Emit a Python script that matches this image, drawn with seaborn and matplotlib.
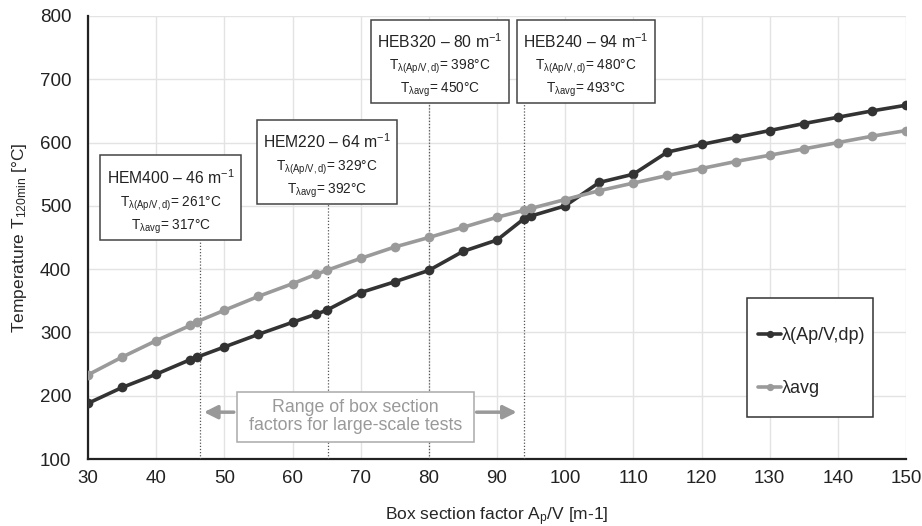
import numpy as np
import pandas as pd
import matplotlib
matplotlib.use("Agg")
import matplotlib.pyplot as plt
import seaborn as sns
from matplotlib.patches import Rectangle

# data
box_factor = [30, 35, 40, 45, 46, 50, 55, 60, 63.5, 65, 70, 75, 80, 85, 90, 94, 95,
              100, 105, 110, 115, 120, 125, 130, 135, 140, 145, 150]
t_lambda_apvd = [188, 213, 234, 257, 261, 277, 297, 316, 329, 335, 363, 380, 398, 428, 446, 480, 484,
                 500, 537, 550, 585, 597, 608, 619, 630, 640, 650, 659]
t_lambda_avg = [233, 261, 287, 311, 317, 335, 357, 377, 392, 398, 417, 435, 450, 466, 482, 493, 496,
                510, 524, 536, 548, 559, 570, 580, 590, 600, 610, 619]
series_names = ["λ(Ap/V,dp)", "λavg"]
series_colors = ["#333333", "#9a9a9a"]

sections = ["HEM400", "HEM220", "HEB320", "HEB240"]
section_factor = [46, 64, 80, 94]
section_line_x = [46.4, 65.2, 80, 94]
t_apvd_labels = [261, 329, 398, 480]
t_avg_labels = [317, 392, 450, 493]

df = pd.concat([
    pd.DataFrame({"x": box_factor, "T": t_lambda_apvd, "series": series_names[0]}),
    pd.DataFrame({"x": box_factor, "T": t_lambda_avg, "series": series_names[1]}),
])

sns.set_style("whitegrid", {"grid.color": "#e3e3e3", "axes.edgecolor": "#222222"})
plt.rcParams["font.family"] = ["Liberation Sans", "DejaVu Sans"]
plt.rcParams["mathtext.fontset"] = "custom"
plt.rcParams["mathtext.rm"] = "Liberation Sans"
plt.rcParams["mathtext.it"] = "Liberation Sans:italic"

fig = plt.figure(figsize=(9.22, 5.26), dpi=100)
ax = fig.add_axes([88 / 922, 1 - 459 / 526, 818 / 922, 443 / 526])

sns.lineplot(data=df, x="x", y="T", hue="series", palette=series_colors, marker="o",
             markersize=7, markeredgewidth=0, linewidth=2.6, ax=ax, zorder=5)

ax.set_xlim(30, 150)
ax.set_ylim(100, 800)
ax.set_xticks(np.arange(30, 151, 10))
ax.set_yticks(np.arange(100, 801, 100))
ax.tick_params(axis="both", labelsize=13.5, colors="#222222", direction="in", length=5, width=1.2)
ax.tick_params(axis="x", pad=8)
ax.tick_params(axis="y", length=0, pad=12)
for s in ["top", "right"]:
    ax.spines[s].set_visible(False)
for s in ["left", "bottom"]:
    ax.spines[s].set_linewidth(1.6)
ax.grid(True, color="#e3e3e3", linewidth=1)
ax.set_xlabel(r"Box section factor A$_{\mathrm{p}}$/V [m-1]", fontsize=12.5, labelpad=13)
ax.set_ylabel(r"Temperature T$_{\mathrm{120min}}$ [°C]", fontsize=12.5, labelpad=8)

# annotation boxes (x0, x1, y0, y1) in data units
boxes = [(31.8, 52.5, 446, 580), (54.8, 75.3, 503, 636), (71.5, 91.8, 663, 794), (92.9, 113.2, 663, 794)]
for name, f, lx, ta, tv, (x0, x1, y0, y1) in zip(sections, section_factor, section_line_x,
                                                 t_apvd_labels, t_avg_labels, boxes):
    ax.add_patch(Rectangle((x0, y0), x1 - x0, y1 - y0, facecolor="white", edgecolor="#444444",
                           linewidth=1.1, zorder=6))
    ax.plot([lx, lx], [100, y0], color="#555555", linestyle=(0, (1, 1.5)), linewidth=0.9, zorder=4)
    xc = (x0 + x1) / 2
    h = y1 - y0
    ax.text(xc, y1 - 0.26 * h, f"{name} – {f} m$^{{\\mathrm{{-1}}}}$", ha="center", va="center",
            fontsize=11.3, color="#222222", zorder=7)
    ax.text(xc, y1 - 0.57 * h, rf"T$_{{\mathrm{{\lambda(Ap/V,d)}}}}$= {ta}°C", ha="center", va="center",
            fontsize=9.8, color="#222222", zorder=7)
    ax.text(xc, y1 - 0.85 * h, rf"T$_{{\mathrm{{\lambda avg}}}}$= {tv}°C", ha="center", va="center",
            fontsize=9.8, color="#222222", zorder=7)

# range box with arrows
ax.add_patch(Rectangle((51.8, 127.5), 34.8, 79, facecolor="white", edgecolor="#aaaaaa",
                       linewidth=1.1, zorder=6))
ax.text(69.2, 167, "Range of box section\nfactors for large-scale tests", ha="center", va="center",
        fontsize=12.8, color="#999999", linespacing=1.1, zorder=7)
arrow_kw = dict(arrowstyle="-|>,head_length=0.8,head_width=0.4", color="#999999", lw=2.5)
ax.annotate("", xy=(46.6, 174), xytext=(51.8, 174), arrowprops=arrow_kw, zorder=7)
ax.annotate("", xy=(93.3, 174), xytext=(86.6, 174), arrowprops=arrow_kw, zorder=7)

# legend: frame drawn separately to match the reference padding
ax.add_patch(Rectangle((0.806, 0.095), 0.154, 0.268, transform=ax.transAxes, facecolor="white",
                       edgecolor="#333333", linewidth=1.1, zorder=8))
handles, labels = ax.get_legend_handles_labels()
leg = ax.legend(handles, labels, loc="center", bbox_to_anchor=(0.885, 0.218), fontsize=13,
                frameon=False, labelspacing=2.0, handlelength=1.3, handletextpad=0.05,
                borderpad=0, borderaxespad=0, markerscale=0.75)
leg.set_zorder(9)

fig.savefig("out.png", dpi=100)
